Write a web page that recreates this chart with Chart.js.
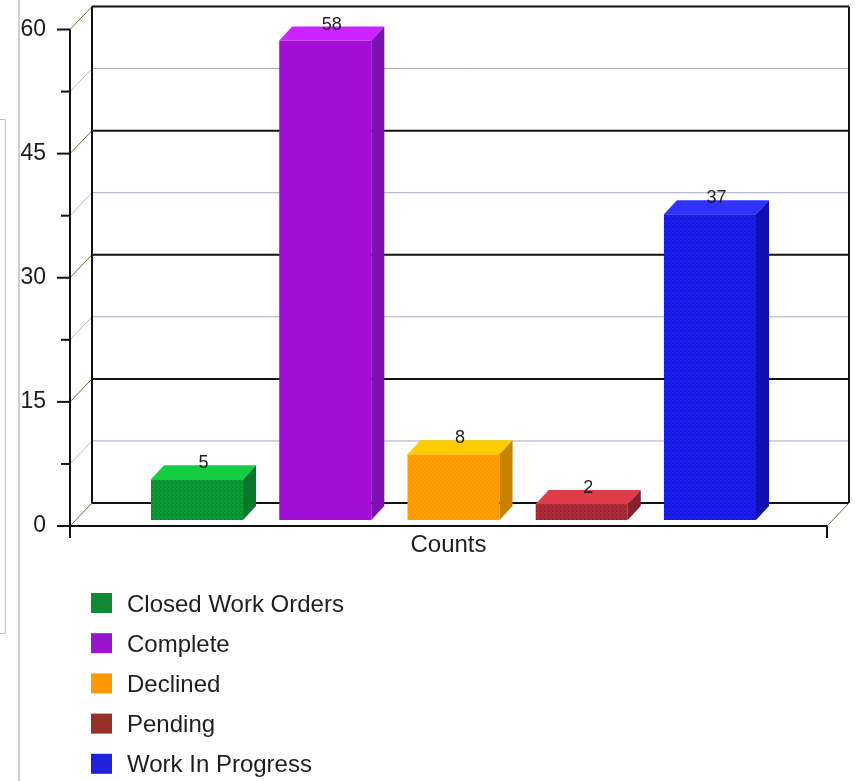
<!DOCTYPE html>
<html>
<head>
<meta charset="utf-8">
<title>Work Orders</title>
<script src="https://cdn.jsdelivr.net/npm/chart.js@4.4.0/dist/chart.umd.min.js"></script>
<style>
  html, body { margin: 0; padding: 0; background: #fff; }
  #wrap { position: relative; width: 855px; height: 781px; overflow: hidden; }
  #myChart { position: absolute; left: 0; top: 0; }
  .frame-line { position: absolute; left: 18px; top: 0; width: 2px; height: 781px; background: #cfcfcf; }
  .frame-box { position: absolute; left: -2px; top: 119px; width: 6px; height: 513px; border: 1px solid #c4c4c4; }
</style>
</head>
<body>
<div id="wrap">
  <div class="frame-line"></div>
  <div class="frame-box"></div>
  <canvas id="myChart" width="855" height="781"></canvas>
</div>
<script>
const categories = ['Counts'];
const seriesNames = ['Closed Work Orders', 'Complete', 'Declined', 'Pending', 'Work In Progress'];
const seriesValues = [5, 58, 8, 2, 37];
const yMax = 60;
const yStep = 7.5;      // gridlines every 7.5, labels every 15
const labelStep = 15;

// colours for each bar face and the legend swatch
const frontColors  = ['#0c9834', '#9c10d8', '#ff9900', '#b02e38', '#1c1ef0'];
const dotColors    = ['#067a28', '#c400c8', '#ffb000', '#7a1a30', '#1010b8'];
const topColors    = ['#14cc44', '#cc22ff', '#ffcc00', '#dd3c48', '#3030ff'];
const sideColors   = ['#07782a', '#7c10b0', '#c98200', '#88202c', '#1010b0'];
const swatchColors = ['#118a38', '#9a14d0', '#ff9800', '#963028', '#2222dd'];

// depth offsets (pixels) for the back wall and the bars
const WALL = { dx: 22, dy: -23 };
const BAR_SHIFT = { dx: 5, dy: -5.5 };
const BAR_DEPTH = { dx: 13, dy: -14 };

const FONT = '"Liberation Sans", Arial, Helvetica, sans-serif';
const TEXT = '#1e1e1e';

function line(ctx, x1, y1, x2, y2) {
  ctx.beginPath();
  ctx.moveTo(x1, y1);
  ctx.lineTo(x2, y2);
  ctx.stroke();
}

// small dotted fill so the front faces get the old gif-style grain
function dotted(base, dot) {
  const c = document.createElement('canvas');
  c.width = 4;
  c.height = 4;
  const g = c.getContext('2d');
  g.fillStyle = base;
  g.fillRect(0, 0, 4, 4);
  g.fillStyle = dot;
  g.fillRect(0, 0, 1, 1);
  g.fillRect(2, 2, 1, 1);
  g.fillRect(3, 0, 1, 1);
  return g.createPattern(c, 'repeat');
}

// back wall, gridlines and the front axes
const wallPlugin = {
  id: 'wall3d',
  beforeDatasetsDraw(chart) {
    const { ctx, chartArea: a, scales: { y } } = chart;
    const bx = a.left + WALL.dx, brx = a.right + WALL.dx;
    const top = a.top + WALL.dy, bottom = a.bottom + WALL.dy;
    ctx.save();

    y.ticks.forEach(t => {
      const py = y.getPixelForValue(t.value);
      const major = t.value % labelStep === 0;
      ctx.lineWidth = 1;
      ctx.strokeStyle = major ? '#6a6a3a' : '#b8b8d0';
      line(ctx, a.left, py, bx, py + WALL.dy);
      ctx.lineWidth = major ? 2 : 1;
      ctx.strokeStyle = major ? '#111' : '#a8a8c4';
      line(ctx, bx, py + WALL.dy, brx, py + WALL.dy);
      ctx.lineWidth = 2;
      ctx.strokeStyle = '#111';
      line(ctx, a.left - (major ? 13 : 9), py, a.left, py);
    });

    ctx.lineWidth = 2;
    ctx.strokeStyle = '#111';
    line(ctx, bx, top, bx, bottom);
    line(ctx, brx, top, brx, bottom);

    // front axis and floor edge
    line(ctx, a.left, a.top, a.left, a.bottom + 12);
    line(ctx, a.left, a.bottom, a.right, a.bottom);
    line(ctx, a.right, a.bottom, a.right, a.bottom + 12);
    ctx.lineWidth = 1;
    ctx.strokeStyle = '#6a6a3a';
    line(ctx, a.right, a.bottom, brx, bottom);
    ctx.restore();
  },
  beforeDatasetDraw(chart) {
    chart.ctx.save();
    chart.ctx.translate(BAR_SHIFT.dx, BAR_SHIFT.dy);
  },
  afterDatasetDraw(chart, args) {
    const ctx = chart.ctx;
    const i = args.index;
    const bar = chart.getDatasetMeta(i).data[0];
    const { x, y, width } = bar.getProps(['x', 'y', 'width'], true);
    const base = bar.base;
    const l = x - width / 2, r = x + width / 2;
    const dx = BAR_DEPTH.dx, dy = BAR_DEPTH.dy;

    ctx.fillStyle = topColors[i];
    ctx.beginPath();
    ctx.moveTo(l, y);
    ctx.lineTo(l + dx, y + dy);
    ctx.lineTo(r + dx, y + dy);
    ctx.lineTo(r, y);
    ctx.closePath();
    ctx.fill();

    ctx.fillStyle = sideColors[i];
    ctx.beginPath();
    ctx.moveTo(r, y);
    ctx.lineTo(r + dx, y + dy);
    ctx.lineTo(r + dx, base + dy);
    ctx.lineTo(r, base);
    ctx.closePath();
    ctx.fill();

    // value label sits on the back edge of the top face
    ctx.fillStyle = TEXT;
    ctx.font = '18px ' + FONT;
    ctx.textAlign = 'center';
    ctx.textBaseline = 'alphabetic';
    ctx.fillText(String(seriesValues[i]), x + dx / 2, y + dy + 3);
    ctx.restore();
  }
};

// vertical legend under the plot
const legendPlugin = {
  id: 'stackLegend',
  afterDraw(chart) {
    const { ctx, chartArea: a } = chart;
    const y0 = a.bottom + 67;
    ctx.save();
    ctx.font = '24px ' + FONT;
    ctx.textAlign = 'left';
    ctx.textBaseline = 'middle';
    seriesNames.forEach((name, i) => {
      const yy = y0 + i * 40.2;
      ctx.fillStyle = swatchColors[i];
      ctx.fillRect(91, yy, 21, 20);
      ctx.fillStyle = TEXT;
      ctx.fillText(name, 127, yy + 12);
    });
    ctx.restore();
  }
};

const canvas = document.getElementById('myChart');

const data = {
  labels: categories,
  datasets: seriesNames.map((name, i) => ({
    label: name,
    data: [seriesValues[i]],
    backgroundColor: dotted(frontColors[i], dotColors[i]),
    borderWidth: 0,
    categoryPercentage: 0.847,
    barPercentage: 0.718
  }))
};

const config = {
  type: 'bar',
  data,
  options: {
    responsive: false,
    animation: false,
    layout: {
      padding: { left: 0, top: 29.5, right: 28, bottom: 215 }
    },
    plugins: {
      legend: { display: false },
      tooltip: { enabled: false }
    },
    scales: {
      x: {
        grid: { display: false, drawTicks: false },
        border: { display: false },
        ticks: { color: TEXT, font: { family: FONT, size: 24 }, padding: 5 },
        afterFit(scale) { scale.height = 40; }
      },
      y: {
        min: 0,
        max: yMax,
        // invisible tick marks keep the labels clear of the axis
        grid: {
          display: true,
          drawOnChartArea: false,
          drawTicks: true,
          tickLength: 22,
          color: 'rgba(0,0,0,0)'
        },
        border: { display: false },
        ticks: {
          stepSize: yStep,
          autoSkip: false,
          padding: 2,
          color: TEXT,
          font: { family: FONT, size: 23 },
          callback: v => (v % labelStep === 0 ? v : '')
        },
        afterFit(scale) { scale.width = 70; }
      }
    }
  },
  plugins: [wallPlugin, legendPlugin]
};

const myChart = new Chart(canvas, config);
</script>
</body>
</html>
